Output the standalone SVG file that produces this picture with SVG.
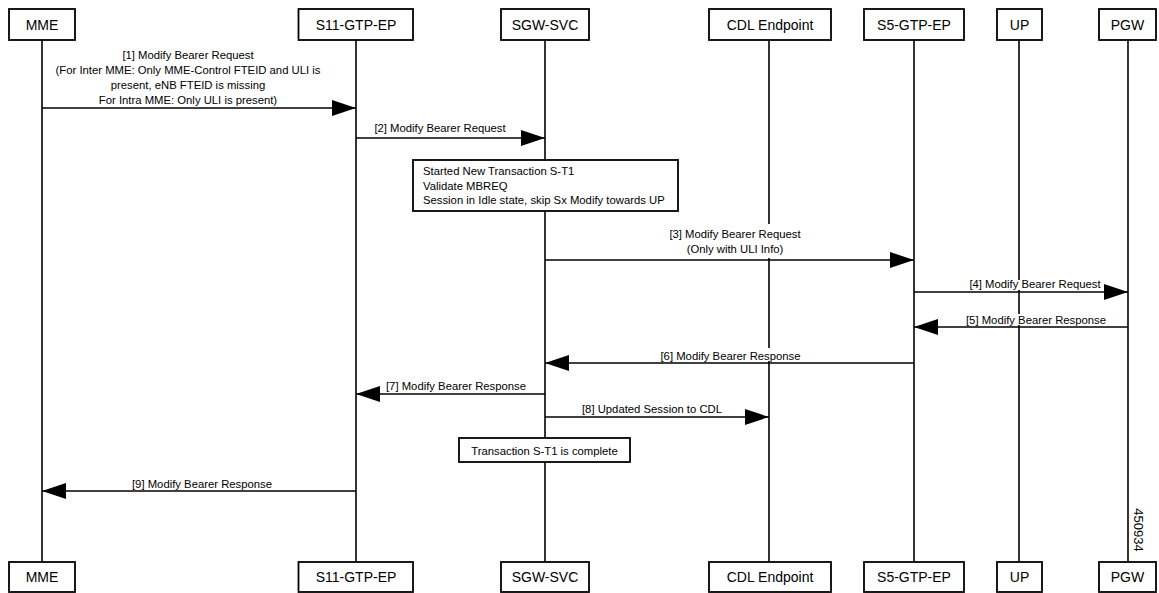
<svg xmlns="http://www.w3.org/2000/svg" width="1159" height="593" viewBox="0 0 1159 593">
<style>
.box{fill:#fff;stroke:#000;stroke-width:1.8}
.life{stroke:#000;stroke-width:1.6;fill:none}
.hdr{font-family:"Liberation Sans",Arial,sans-serif;font-size:14px;fill:#000;text-anchor:middle}
.lbl{font-family:"Liberation Sans",Arial,sans-serif;font-size:11.3px;fill:#000;text-anchor:middle}
.note{font-family:"Liberation Sans",Arial,sans-serif;font-size:11.3px;fill:#000}
.msg{stroke:#000;stroke-width:1.6;fill:none;marker-end:url(#ah)}
.bg{fill:#fff;stroke:none}
</style>
<defs>
<marker id="ah" markerUnits="userSpaceOnUse" markerWidth="25" markerHeight="17" refX="24" refY="8" orient="auto">
<path d="M0,0 L24,8 L0,16 z" fill="#000"/>
</marker>
</defs>
<rect width="1159" height="593" fill="#fff"/>

<g id="mme">
<line class="life" x1="42" y1="40" x2="42" y2="562"/>
<rect class="box" x="9" y="9" width="66" height="31"/>
<text class="hdr" x="42" y="29.5">MME</text>
<rect class="box" x="9" y="562" width="66" height="30"/>
<text class="hdr" x="42" y="582">MME</text>
</g>
<g id="s11">
<line class="life" x1="356" y1="40" x2="356" y2="562"/>
<rect class="box" x="298.5" y="9" width="114.5" height="31"/>
<text class="hdr" x="356" y="29.5">S11-GTP-EP</text>
<rect class="box" x="298.5" y="562" width="114.5" height="30"/>
<text class="hdr" x="356" y="582">S11-GTP-EP</text>
</g>
<g id="sgw">
<line class="life" x1="545" y1="40" x2="545" y2="562"/>
<rect class="box" x="501" y="9" width="88" height="31"/>
<text class="hdr" x="545" y="29.5">SGW-SVC</text>
<rect class="box" x="501" y="562" width="88" height="30"/>
<text class="hdr" x="545" y="582">SGW-SVC</text>
</g>
<g id="cdl">
<line class="life" x1="769" y1="40" x2="769" y2="562"/>
<rect class="box" x="709" y="9" width="122" height="31"/>
<text class="hdr" x="770" y="29.5">CDL Endpoint</text>
<rect class="box" x="709" y="562" width="122" height="30"/>
<text class="hdr" x="770" y="582">CDL Endpoint</text>
</g>
<g id="s5">
<line class="life" x1="914" y1="40" x2="914" y2="562"/>
<rect class="box" x="864" y="9" width="100" height="31"/>
<text class="hdr" x="914" y="29.5">S5-GTP-EP</text>
<rect class="box" x="864" y="562" width="100" height="30"/>
<text class="hdr" x="914" y="582">S5-GTP-EP</text>
</g>
<g id="up">
<line class="life" x1="1019" y1="40" x2="1019" y2="562"/>
<rect class="box" x="997" y="9" width="45" height="31"/>
<text class="hdr" x="1019.5" y="29.5">UP</text>
<rect class="box" x="997" y="562" width="45" height="30"/>
<text class="hdr" x="1019.5" y="582">UP</text>
</g>
<g id="pgw">
<line class="life" x1="1128" y1="40" x2="1128" y2="562"/>
<rect class="box" x="1099" y="9" width="57" height="31"/>
<text class="hdr" x="1127.5" y="29.5">PGW</text>
<rect class="box" x="1099" y="562" width="57" height="30"/>
<text class="hdr" x="1127.5" y="582">PGW</text>
</g>

<g id="note1">
<rect class="box" x="413" y="160" width="265" height="51" stroke-width="1.5"/>
<text class="note" x="423" y="175">Started New Transaction S-T1</text>
<text class="note" x="423" y="189.5">Validate MBREQ</text>
<text class="note" x="423" y="204">Session in Idle state, skip Sx Modify towards UP</text>
</g>
<g id="note2">
<rect class="box" x="459" y="438" width="171" height="24" stroke-width="1.5"/>
<text class="note" x="544.5" y="454.5" text-anchor="middle">Transaction S-T1 is complete</text>
</g>

<g id="connectors">
<rect class="bg" x="670" y="224" width="132" height="34"/>
<rect class="bg" x="968" y="280" width="133" height="10"/>
<rect class="bg" x="966" y="314" width="140" height="11"/>
<rect class="bg" x="661" y="348" width="139" height="13"/>

<line class="msg" x1="42" y1="108" x2="356" y2="108"/>
<text class="lbl" x="188" y="59">[1] Modify Bearer Request</text>
<text class="lbl" x="188" y="74">(For Inter MME: Only MME-Control FTEID and ULI is</text>
<text class="lbl" x="188" y="89">present, eNB FTEID is missing</text>
<text class="lbl" x="188" y="104">For Intra MME: Only ULI is present)</text>

<line class="msg" x1="356" y1="138" x2="545" y2="138"/>
<text class="lbl" x="440" y="132">[2] Modify Bearer Request</text>

<line class="msg" x1="545" y1="260" x2="914" y2="260"/>
<text class="lbl" x="735" y="237.5">[3] Modify Bearer Request</text>
<text class="lbl" x="735" y="252.5">(Only with ULI Info)</text>

<line class="msg" x1="914" y1="292" x2="1128" y2="292"/>
<text class="lbl" x="1035" y="288">[4] Modify Bearer Request</text>

<line class="msg" x1="1128" y1="327" x2="914" y2="327"/>
<text class="lbl" x="1036" y="324">[5] Modify Bearer Response</text>

<line class="msg" x1="914" y1="363" x2="545" y2="363"/>
<text class="lbl" x="730.5" y="359.5">[6] Modify Bearer Response</text>

<line class="msg" x1="545" y1="394" x2="356" y2="394"/>
<text class="lbl" x="456" y="390">[7] Modify Bearer Response</text>

<line class="msg" x1="545" y1="417" x2="769" y2="417"/>
<text class="lbl" x="652" y="413">[8] Updated Session to CDL</text>

<line class="msg" x1="356" y1="491" x2="42" y2="491"/>
<text class="lbl" x="202" y="488">[9] Modify Bearer Response</text>
</g>

<text x="1134" y="530" transform="rotate(90 1134 530)" font-family="Liberation Sans, Arial, sans-serif" font-size="13" text-anchor="middle" fill="#000">450934</text>
</svg>
